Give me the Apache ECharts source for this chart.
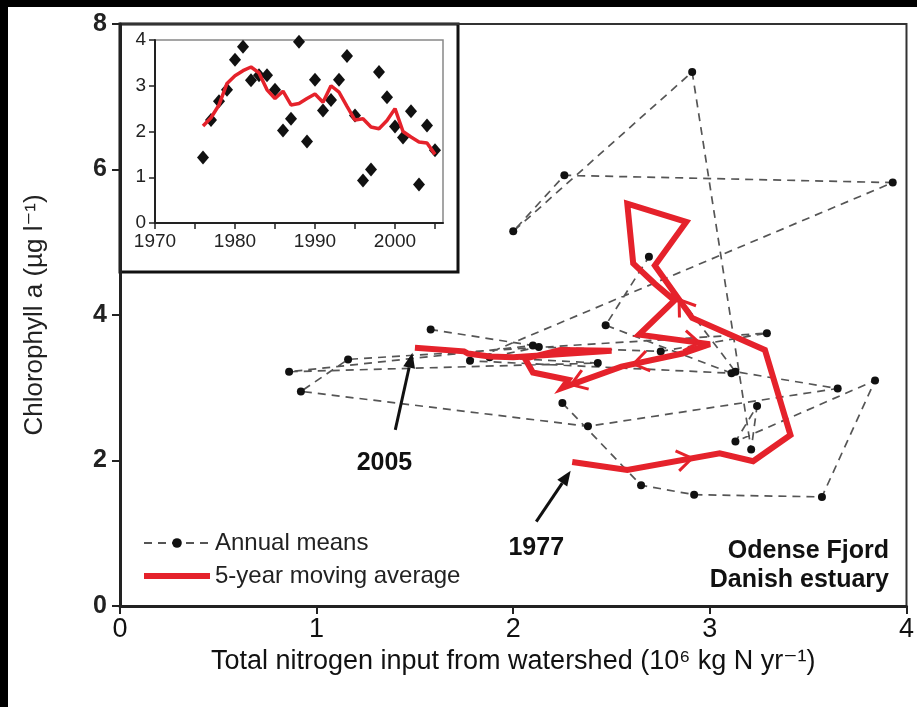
<!DOCTYPE html>
<html><head><meta charset="utf-8">
<script src="https://cdn.jsdelivr.net/npm/echarts@6/dist/echarts.min.js"></script>
<style>html,body{margin:0;padding:0;background:#fff}#c{width:917px;height:707px}</style>
</head><body><div id="c"></div>
<script>
// ---- Main plot: annual means (N input vs chlorophyll a), 1977-2005 ----
const annualYears = [1977,1978,1979,1980,1981,1982,1983,1984,1985,1986,1987,1988,1989,1990,1991,1992,1993,1994,1995,1996,1997,1998,1999,2000,2001,2002,2003,2004,2005];
const annualN   = [2.25,2.65,2.92,3.57,3.84,3.13,3.24,3.21,2.91,2.00,2.26,3.93,1.78,3.11,2.47,2.69,3.13,3.65,2.38,0.92,1.16,3.29,2.75,2.13,1.88,2.43,0.86,2.10,1.58];
const annualChl = [2.79,1.66,1.53,1.50,3.10,2.26,2.75,2.15,7.34,5.15,5.92,5.82,3.37,3.20,3.86,4.80,3.22,2.99,2.47,2.95,3.39,3.75,3.50,3.56,3.42,3.34,3.22,3.58,3.80];

// ---- 5-year moving average (1976-2005; chlorophyll not available for 1976) ----
const maYears = [1976,1977,1978,1979,1980,1981,1982,1983,1984,1985,1986,1987,1988,1989,1990,1991,1992,1993,1994,1995,1996,1997,1998,1999,2000,2001,2002,2003,2004,2005];
const maN   = [2.12,2.30,2.58,3.05,3.22,3.33,3.41,3.28,2.91,2.72,2.88,2.58,2.61,2.72,2.82,2.64,3.00,2.86,2.55,2.25,2.28,2.10,2.06,2.24,2.50,2.00,1.88,1.77,1.75,1.50];
const maChl = [null,1.98,1.87,2.10,1.99,2.20,2.35,3.52,3.96,4.68,5.28,5.53,4.71,4.43,4.20,3.73,3.60,3.47,3.29,3.00,3.11,3.21,3.40,3.52,3.51,3.42,3.43,3.47,3.50,3.55];

// ---- Inset: annual N input by year ----
const insetYears = [1976,1977,1978,1979,1980,1981,1982,1983,1984,1985,1986,1987,1988,1989,1990,1991,1992,1993,1994,1995,1996,1997,1998,1999,2000,2001,2002,2003,2004,2005];
const insetN = [1.43,2.25,2.66,2.91,3.57,3.85,3.12,3.23,3.23,2.91,2.02,2.28,3.96,1.78,3.13,2.46,2.69,3.13,3.65,2.35,0.93,1.17,3.30,2.75,2.11,1.87,2.44,0.84,2.13,1.59];

// ---- Tick labels ----
const mainXTicks = [0,1,2,3,4];
const mainYTicks = [0,2,4,6,8];
const insetXTickValues = [1970,1975,1980,1985,1990,1995,2000,2005];
const insetXLabels = [1970,1980,1990,2000];
const insetYTicks = [0,1,2,3,4];

// direction chevrons on the moving-average path (segment start year, fraction along)
const arrowSegStartYears = [1978,1984,1991,1993,1994];
const arrowSegFractions  = [0.70,0.35,0.85,0.80,0.85];

// annotation arrows (data coordinates)
const annotLabels = ['2005','1977'];
const annotFrom = [[1.40,2.42],[2.117,1.16]];
const annotTo   = [[1.487,3.48],[2.292,1.86]];
const annotText = [[1.345,1.97],[2.117,0.80]];

const FONT = "'Liberation Sans', Arial, 'DejaVu Sans', sans-serif";
const RED = '#e5222b';

const mainMA = [];
for (let i = 0; i < maYears.length; i++) if (maChl[i] != null) mainMA.push([maN[i], maChl[i], maYears[i]]);
const annual = annualYears.map((y,i)=>[annualN[i], annualChl[i], y]);

const chart = echarts.init(document.getElementById('c'), null, {renderer:'canvas'});
chart.setOption({
  animation:false,
  backgroundColor:'#fff',
  textStyle:{fontFamily:FONT},
  graphic:[
    {type:'rect', z:-10, shape:{x:120,y:24,width:338,height:248}, style:{fill:'#fff', stroke:'#111', lineWidth:3}},
    {type:'rect', z:100, shape:{x:0,y:0,width:917,height:7}, style:{fill:'#000'}},
    {type:'rect', z:100, shape:{x:0,y:0,width:8,height:707}, style:{fill:'#000'}},
    {type:'text', z:10, x:889, y:551, style:{text:'Odense Fjord', font:'bold 25px '+FONT, fill:'#111', align:'right', verticalAlign:'middle'}},
    {type:'text', z:10, x:889, y:580, style:{text:'Danish estuary', font:'bold 25px '+FONT, fill:'#111', align:'right', verticalAlign:'middle'}}
  ],
  legend:{
    orient:'vertical', left:138, top:526, itemWidth:66, itemHeight:12, itemGap:9,
    data:[
      {name:'Annual means'},
      {name:'5-year moving average', icon:'path://M0,0 L66,0 L66,6 L0,6 Z', itemStyle:{color:RED}}
    ],
    textStyle:{fontSize:24, color:'#222', fontFamily:FONT}
  },
  grid:[
    {left:120, top:24, right:8, bottom:101, show:true, borderColor:'#333', borderWidth:2, containLabel:false},
    {left:155, top:40, width:288, height:183, show:true, borderColor:'#888', borderWidth:1.5, backgroundColor:'#fff'}
  ],
  xAxis:[
    {type:'value', gridIndex:0, min:0, max:4, interval:1,
     axisLine:{lineStyle:{color:'#222', width:3}},
     axisTick:{show:true, length:8, lineStyle:{color:'#222', width:2}},
     axisLabel:{fontSize:27, color:'#111', margin:10, customValues:mainXTicks},
     splitLine:{show:false},
     name:'Total nitrogen input from watershed (10\u2076 kg N yr\u207B\u00B9)', nameLocation:'middle', nameGap:36,
     nameTextStyle:{fontSize:27, color:'#111', fontFamily:FONT}},
    {type:'value', gridIndex:1, min:1970, max:2006,
     axisLine:{lineStyle:{color:'#222', width:2}},
     axisTick:{show:true, length:6, lineStyle:{color:'#222', width:1.5}, customValues:insetXTickValues},
     axisLabel:{fontSize:19, color:'#222', margin:9, customValues:insetXLabels, formatter:function(v){return String(v);}},
     splitLine:{show:false}}
  ],
  yAxis:[
    {type:'value', gridIndex:0, min:0, max:8, interval:2,
     axisLine:{show:true, lineStyle:{color:'#222', width:3}},
     axisTick:{show:true, length:8, lineStyle:{color:'#222', width:2}},
     axisLabel:{fontSize:25, fontWeight:'bold', color:'#222', margin:13, customValues:mainYTicks},
     splitLine:{show:false},
     name:'Chlorophyll a (\u00B5g l\u207B\u00B9)', nameLocation:'middle', nameGap:72, nameRotate:90,
     nameTextStyle:{fontSize:26, color:'#222', fontFamily:FONT}},
    {type:'value', gridIndex:1, min:0, max:4, interval:1,
     axisLine:{show:true, lineStyle:{color:'#222', width:2}},
     axisTick:{show:true, length:6, lineStyle:{color:'#222', width:1.5}},
     axisLabel:{fontSize:19, color:'#222', margin:9, customValues:insetYTicks},
     splitLine:{show:false}}
  ],
  series:[
    {name:'Annual means', type:'line', xAxisIndex:0, yAxisIndex:0, data:annual, z:2,
     symbol:'circle', symbolSize:8, showAllSymbol:true,
     itemStyle:{color:'#111'},
     lineStyle:{color:'#555', width:1.7, type:[8,6]}},
    {name:'5-year moving average', type:'line', xAxisIndex:0, yAxisIndex:0, data:mainMA, z:3,
     symbol:'none', lineStyle:{color:RED, width:6, join:'miter', miterLimit:4}, itemStyle:{color:RED}},
    {name:'chevrons', type:'custom', xAxisIndex:0, yAxisIndex:0, z:4, silent:true,
     data:arrowSegStartYears.map((y,k)=>[k]),
     renderItem:function(params, api){
       const k = params.dataIndex;
       const i = mainMA.findIndex(d=>d[2]===arrowSegStartYears[k]);
       const a = api.coord([mainMA[i][0], mainMA[i][1]]);
       const b = api.coord([mainMA[i+1][0], mainMA[i+1][1]]);
       const t = arrowSegFractions[k];
       const p = [a[0]+(b[0]-a[0])*t, a[1]+(b[1]-a[1])*t];
       const ang = Math.atan2(b[1]-a[1], b[0]-a[0]);
       const L = 18, h = 0.6;
       const l1 = [p[0]-L*Math.cos(ang-h), p[1]-L*Math.sin(ang-h)];
       const l2 = [p[0]-L*Math.cos(ang+h), p[1]-L*Math.sin(ang+h)];
       return {type:'polyline', shape:{points:[l1,p,l2]}, style:{stroke:RED, lineWidth:3, fill:null}};
     }},
    {name:'annotations', type:'custom', xAxisIndex:0, yAxisIndex:0, z:5, silent:true,
     data:annotLabels.map((s,k)=>[k]),
     renderItem:function(params, api){
       const k = params.dataIndex;
       const p0 = api.coord(annotFrom[k]), p1 = api.coord(annotTo[k]);
       const ang = Math.atan2(p1[1]-p0[1], p1[0]-p0[0]);
       const L = 15, W = 6;
       const base = [p1[0]-L*Math.cos(ang), p1[1]-L*Math.sin(ang)];
       const left = [base[0]+W*Math.sin(ang), base[1]-W*Math.cos(ang)];
       const right = [base[0]-W*Math.sin(ang), base[1]+W*Math.cos(ang)];
       const pt = api.coord(annotText[k]);
       return {type:'group', children:[
         {type:'line', shape:{x1:p0[0],y1:p0[1],x2:base[0],y2:base[1]}, style:{stroke:'#111', lineWidth:3}},
         {type:'polygon', shape:{points:[p1,left,right]}, style:{fill:'#111'}},
         {type:'text', x:pt[0], y:pt[1], style:{text:annotLabels[k], font:'bold 25px '+FONT, fill:'#111', align:'center', verticalAlign:'middle'}}
       ]};
     }},
    {name:'Inset N input', type:'scatter', xAxisIndex:1, yAxisIndex:1, z:3,
     data:insetYears.map((y,i)=>[y, insetN[i]]),
     symbol:'diamond', symbolSize:[12,14], itemStyle:{color:'#111', opacity:1}},
    {name:'Inset moving average', type:'line', xAxisIndex:1, yAxisIndex:1, z:4,
     data:maYears.map((y,i)=>[y, maN[i]]),
     symbol:'none', lineStyle:{color:RED, width:3.5}}
  ]
});
</script></body></html>
